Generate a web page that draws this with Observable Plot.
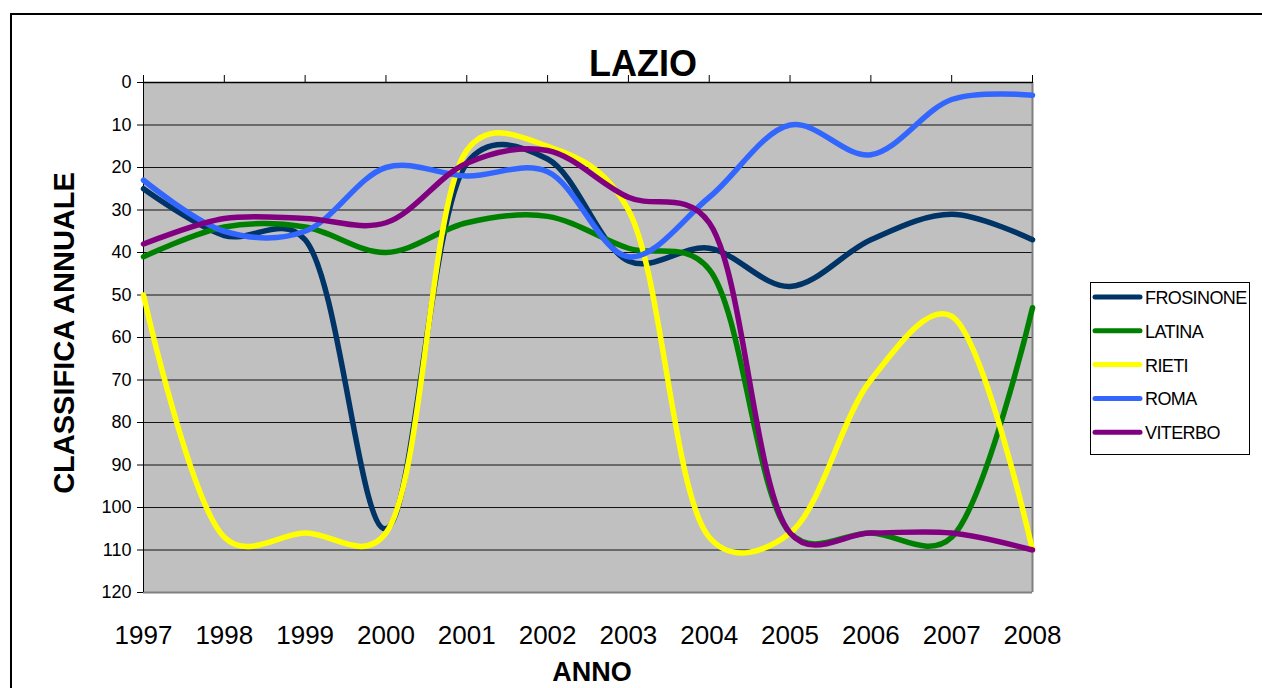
<!DOCTYPE html>
<html>
<head>
<meta charset="utf-8">
<script src="https://cdn.jsdelivr.net/npm/d3@7"></script>
<script src="https://cdn.jsdelivr.net/npm/@observablehq/plot@0.6"></script>
<style>
  body { margin: 0; background: #fff; }
  #wrap { position: relative; width: 1262px; height: 688px; overflow: hidden; font-family: "Liberation Sans", Arial, sans-serif; }
  #wrap > svg { position: absolute; left: 0; top: 0; }
  #frame { position: absolute; left: 10px; top: 13px; width: 1300px; height: 700px; border-left: 2px solid #000; border-top: 2px solid #000; }
</style>
</head>
<body>
<div id="wrap"><div id="frame"></div></div>
<script>
// ---- data ----
const years = [1997, 1998, 1999, 2000, 2001, 2002, 2003, 2004, 2005, 2006, 2007, 2008];
const provinces = ["FROSINONE", "LATINA", "RIETI", "ROMA", "VITERBO"];
const colors = ["#003366", "#008000", "#FFFF00", "#3366FF", "#800080"];
const frosinone = [25, 36, 37, 105, 19, 18, 42, 39, 48, 37, 31, 37];
const latina    = [41, 34, 34, 40, 33, 31.5, 39, 44, 106, 106, 107, 53];
const rieti     = [50, 107, 106, 106, 16, 15, 30, 107, 106, 70, 55, 110];
const roma      = [23, 35, 35, 20, 22, 21, 41, 27, 10, 17, 4, 3];
const viterbo   = [38, 32, 32, 33, 19, 16, 27, 33, 106, 106, 106, 110];
const yTicks = [0, 10, 20, 30, 40, 50, 60, 70, 80, 90, 100, 110, 120];
const titleText = "LAZIO";
const xLabel = "ANNO";
const yLabel = "CLASSIFICA ANNUALE";

const series = [frosinone, latina, rieti, roma, viterbo];
const rows = [];
provinces.forEach((p, i) => years.forEach((yr, j) => rows.push({prov: p, year: yr, value: series[i][j]})));

const font = "Liberation Sans, Arial, sans-serif";

const chart = Plot.plot({
  width: 1262,
  height: 688,
  marginLeft: 143,
  marginRight: 230,
  marginTop: 82,
  marginBottom: 96,
  style: {fontFamily: font, background: "transparent", color: "#000", overflow: "visible"},
  x: {domain: [1997, 2008]},
  y: {domain: [0, 120], reverse: true},
  color: {domain: provinces, range: colors},
  marks: [
    Plot.frame({fill: "#C0C0C0", stroke: null}),
    Plot.gridY(yTicks, {stroke: "#000", strokeOpacity: 0.9, strokeWidth: 1}),
    Plot.ruleY([120], {stroke: "#808080", strokeWidth: 2}),
    Plot.ruleX([2008], {stroke: "#808080", strokeWidth: 2}),
    Plot.ruleX([1997], {stroke: "#000", strokeWidth: 1}),
    Plot.ruleY([0], {stroke: "#000", strokeWidth: 1.5}),
    Plot.axisY(yTicks, {tickSize: 6, tickPadding: 6, fontSize: 18, tickFormat: d => String(d), label: null, stroke: "#000"}),
    Plot.axisX(years, {anchor: "top", tickSize: 8, tickFormat: () => "", label: null, stroke: "#000"}),
    Plot.axisX(years, {anchor: "bottom", tickSize: 0, tickPadding: 33, fontSize: 26, tickFormat: d => String(d), label: null}),
    Plot.line(rows, {x: "year", y: "value", z: "prov", stroke: "prov", strokeWidth: 5.5,
      curve: "catmull-rom", tension: 0.3, strokeLinecap: "round", strokeLinejoin: "round"})
  ]
});
document.getElementById("wrap").appendChild(chart);

// ---- overlay: titles & legend ----
const ov = d3.select("#wrap").append("svg")
  .attr("width", 1262).attr("height", 688)
  .style("font-family", font);

ov.append("text").attr("x", 643).attr("y", 76).attr("text-anchor", "middle")
  .attr("font-size", 36).attr("font-weight", "bold").text(titleText);

ov.append("text").attr("x", 592).attr("y", 681).attr("text-anchor", "middle")
  .attr("font-size", 27).attr("font-weight", "bold").text(xLabel);

ov.append("text").attr("transform", "translate(74,333) rotate(-90)").attr("text-anchor", "middle")
  .attr("font-size", 29).attr("font-weight", "bold").text(yLabel);

const lg = ov.append("g");
lg.append("rect").attr("x", 1090.5).attr("y", 282.5).attr("width", 159).attr("height", 172)
  .attr("fill", "#fff").attr("stroke", "#000").attr("stroke-width", 1);
provinces.forEach((p, i) => {
  const y = 297 + i * 33.8;
  lg.append("line").attr("x1", 1095).attr("x2", 1140).attr("y1", y).attr("y2", y)
    .attr("stroke", colors[i]).attr("stroke-width", 5).attr("stroke-linecap", "round");
  lg.append("text").attr("x", 1145).attr("y", y + 7).attr("font-size", 18)
    .attr("letter-spacing", "-0.6px").text(p);
});
</script>
</body>
</html>
